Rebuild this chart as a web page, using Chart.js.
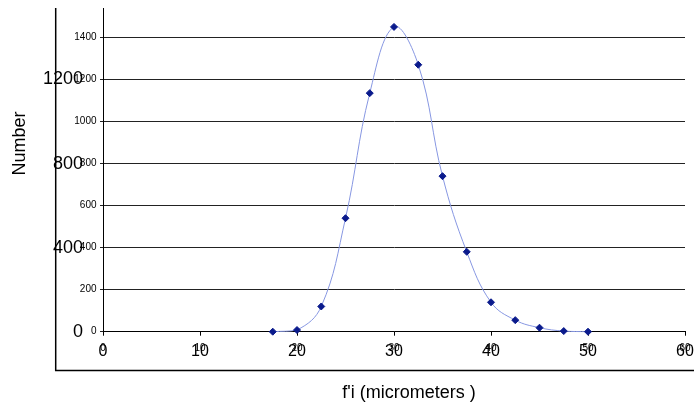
<!DOCTYPE html>
<html>
<head>
<meta charset="utf-8">
<script src="https://cdn.jsdelivr.net/npm/chart.js@4.4.1/dist/chart.umd.min.js"></script>
<style>
  html, body { margin: 0; padding: 0; background: #fff; }
  #chart { display: block; }
</style>
</head>
<body>
<canvas id="chart" width="694" height="405"></canvas>
<script>
// Size bins (micrometers) and counts
const sizeBins = [17.5, 20, 22.5, 25, 27.5, 30, 32.5, 35, 37.5, 40, 42.5, 45, 47.5, 50];
const counts = [0, 8, 120, 540, 1135, 1450, 1270, 740, 380, 140, 55, 19, 3, 0];

// Two overlapping label sets, as in the original
const xTicks = [0, 10, 20, 30, 40, 50, 60];
const yTicksSmall = [0, 200, 400, 600, 800, 1000, 1200, 1400];
const yTicksLarge = [0, 400, 800, 1200];

const xTitle = "f'i (micrometers )";
const yTitle = "Number";

const FONT = "'Liberation Sans', Arial, Helvetica, sans-serif";
const plain = (v) => String(v);

// fixed box size for an axis, no auto padding
function fixed(size) {
  return (scale) => {
    if (scale.isHorizontal()) scale.height = size;
    else scale.width = size;
    scale.paddingLeft = scale.paddingRight = scale.paddingTop = scale.paddingBottom = 0;
  };
}
function useTicks(values) {
  return (scale) => { scale.ticks = values.map((v) => ({ value: v })); };
}

// outer frame and axis titles
const decor = {
  id: "decor",
  afterDraw(chart) {
    const { ctx, chartArea: a } = chart;
    const fx = a.left - 47.3, fy = a.bottom + 38.8;
    ctx.save();
    ctx.strokeStyle = "#000";
    ctx.lineWidth = 1.5;
    ctx.beginPath();
    ctx.moveTo(fx, a.top);
    ctx.lineTo(fx, fy);
    ctx.lineTo(chart.width, fy);
    ctx.stroke();

    ctx.fillStyle = "#000";
    ctx.font = `18px ${FONT}`;
    ctx.textAlign = "center";
    ctx.textBaseline = "middle";
    ctx.fillText(xTitle, a.left + 306, fy + 23);
    ctx.translate(20.5, a.top + 135.4);
    ctx.rotate(-Math.PI / 2);
    ctx.fillText(yTitle, 0, 0);
    ctx.restore();
  },
};

new Chart(document.getElementById("chart"), {
  type: "scatter",
  data: {
    datasets: [{
      data: sizeBins.map((x, i) => ({ x, y: counts[i] })),
      showLine: true,
      tension: 0.4,
      borderColor: "#8797e2",
      borderWidth: 1,
      pointStyle: "rectRot",
      pointRadius: 3.5,
      pointBackgroundColor: "#0a1a8c",
      pointBorderColor: "#0a1a8c",
      pointBorderWidth: 1,
      clip: false,
    }],
  },
  options: {
    responsive: false,
    animation: false,
    devicePixelRatio: 1,
    layout: { padding: { left: 0, top: 8, right: 9, bottom: 0 }, autoPadding: false },
    plugins: { legend: { display: false }, tooltip: { enabled: false } },
    scales: {
      // small labels sit on top of the large ones, so they are mirrored (no clipping) and pulled back out
      x: {
        type: "linear", position: "bottom", weight: 0, min: 0, max: 60,
        afterBuildTicks: useTicks(xTicks), afterFit: fixed(2),
        grid: { display: true, drawOnChartArea: false, drawTicks: true, tickLength: 4, color: "#000", lineWidth: 1 },
        border: { display: true, color: "#000", width: 1 },
        ticks: { font: { family: FONT, size: 10 }, color: "#000", mirror: true, padding: -22.8, maxRotation: 0, autoSkip: false, callback: plain },
      },
      x2: {
        type: "linear", position: "bottom", weight: 1, min: 0, max: 60,
        afterBuildTicks: useTicks(xTicks), afterFit: fixed(71.3),
        grid: { display: false, drawTicks: false, tickLength: 0 },
        border: { display: false },
        ticks: { font: { family: FONT, size: 16 }, color: "#000", padding: 8, maxRotation: 0, autoSkip: false, callback: plain },
      },
      y: {
        type: "linear", position: "left", weight: 0, min: 0, max: 1540,
        afterBuildTicks: useTicks(yTicksSmall), afterFit: fixed(20),
        grid: { color: "#222", lineWidth: 1, drawTicks: true, tickLength: 3 },
        border: { display: true, color: "#000", width: 1 },
        ticks: { font: { family: FONT, size: 10 }, color: "#000", mirror: true, crossAlign: "far", padding: -28.7, autoSkip: false, callback: plain },
      },
      y2: {
        type: "linear", position: "left", weight: 1, min: 0, max: 1540,
        afterBuildTicks: useTicks(yTicksLarge), afterFit: fixed(83),
        grid: { display: false, drawTicks: false, tickLength: 0 },
        border: { display: false },
        ticks: { font: { family: FONT, size: 18 }, color: "#000", padding: 0, autoSkip: false, callback: plain },
      },
    },
  },
  plugins: [decor],
});
</script>
</body>
</html>
